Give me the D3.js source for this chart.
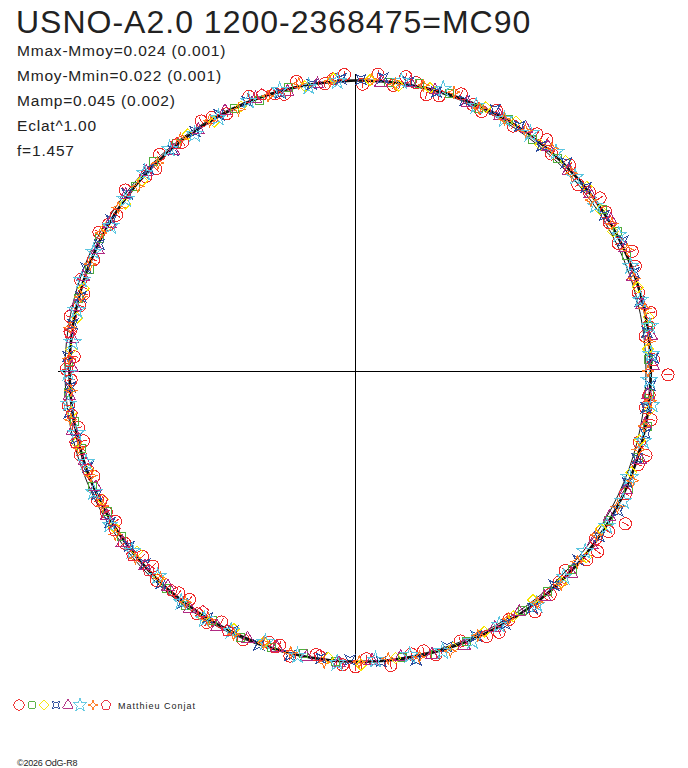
<!DOCTYPE html>
<html>
<head>
<meta charset="utf-8">
<script src="https://cdn.jsdelivr.net/npm/d3@7"></script>
<style>
  body { margin: 0; background: #fff; }
  text { font-family: "Liberation Sans", Arial, sans-serif; fill: #222; }
</style>
</head>
<body>
<script>
// titles
var title = "USNO-A2.0 1200-2368475=MC90";
var infoLines = ["Mmax-Mmoy=0.024 (0.001)", "Mmoy-Mmin=0.022 (0.001)", "Mamp=0.045 (0.002)", "Eclat^1.00", "f=1.457"];
var author = "Matthieu Conjat";
var copyright = "\u00a92026 OdG-R8";

// fitted curve, mag offset from mean, read every 0.05 in phase
var fitPhase = [0, 0.05, 0.10, 0.15, 0.20, 0.25, 0.30, 0.35, 0.40, 0.45, 0.50, 0.55, 0.60, 0.65, 0.70, 0.75, 0.80, 0.85, 0.90, 0.95];
var fitMag = [0.000, -0.008, -0.014, -0.019, -0.023, -0.024, -0.023, -0.020, -0.015, -0.009, -0.002, 0.006, 0.012, 0.017, 0.021, 0.022, 0.020, 0.015, 0.009, 0.004];

// observations per series: phase and mag offset
var circPhase = [0.004, 0.012, 0.021, 0.033, 0.047, 0.058, 0.066, 0.079, 0.091, 0.104, 0.117, 0.128, 0.139, 0.152, 0.166, 0.178, 0.193, 0.207, 0.219, 0.231, 0.244, 0.252, 0.263, 0.276, 0.289, 0.301, 0.318, 0.332, 0.347, 0.359, 0.371, 0.386, 0.398, 0.412, 0.427, 0.441, 0.456, 0.469, 0.481, 0.494, 0.507, 0.522, 0.536, 0.549, 0.563, 0.578, 0.592, 0.607, 0.621, 0.636, 0.648, 0.661, 0.676, 0.689, 0.703, 0.718, 0.731, 0.745, 0.758, 0.772, 0.787, 0.801, 0.814, 0.829, 0.842, 0.856, 0.869, 0.883, 0.897, 0.912, 0.926, 0.941, 0.955, 0.968, 0.983, 0.994,
    0.027, 0.072, 0.110, 0.146, 0.185, 0.226, 0.270, 0.295, 0.340, 0.378, 0.420, 0.462, 0.500, 0.543, 0.585, 0.628, 0.668, 0.710, 0.751, 0.794, 0.835, 0.876, 0.918, 0.960, 0.988, 0.040, 0.160, 0.352, 0.600, 0.780];
var circMag = [0.018, -0.035, 0.012, -0.020, 0.015, -0.030, -0.002, -0.028, -0.004, -0.040, -0.010, -0.032, 0.002, -0.045, -0.018, -0.008, -0.041, -0.015, -0.052, -0.006, -0.038, -0.110, -0.020, -0.045, -0.010, -0.036, -0.030, -0.098, -0.012, -0.040, 0.005, -0.030, -0.050, -0.008, -0.028, 0.004, -0.022, 0.010, -0.030, 0.012, -0.018, 0.020, -0.010, 0.028, -0.004, 0.030, 0.002, 0.034, 0.008, 0.040, 0.012, 0.036, 0.010, 0.042, 0.014, 0.038, 0.006, 0.030, 0.044, 0.012, 0.036, 0.004, 0.030, -0.006, 0.026, -0.012, 0.022, -0.008, 0.018, -0.016, 0.014, -0.020, 0.010, -0.024, 0.008, -0.030,
    -0.040, 0.010, -0.048, -0.020, -0.055, -0.030, -0.010, -0.060, -0.045, -0.015, -0.038, 0.012, -0.026, 0.030, -0.008, 0.046, 0.020, 0.048, 0.006, 0.040, 0.016, 0.032, -0.004, 0.024, -0.012, 0.026, -0.030, -0.058, 0.040, 0.000];

var sqPhase = [0.018, 0.052, 0.087, 0.121, 0.158, 0.186, 0.226, 0.262, 0.297, 0.335, 0.368, 0.403, 0.438, 0.474, 0.511, 0.547, 0.583, 0.614, 0.652, 0.684, 0.722, 0.755, 0.791, 0.826, 0.861, 0.894, 0.931, 0.963,
    0.035, 0.104, 0.172, 0.244, 0.315, 0.386, 0.456, 0.529, 0.600, 0.668, 0.738, 0.808, 0.878, 0.946, 0.070, 0.280, 0.565, 0.706];
var sqMag = [0.002, -0.012, -0.020, -0.015, -0.024, -0.018, -0.028, -0.022, -0.026, -0.016, -0.020, -0.010, -0.012, 0.002, -0.004, 0.010, 0.014, 0.012, 0.020, 0.016, 0.024, 0.018, 0.022, 0.012, 0.016, 0.006, 0.008, -0.004,
    -0.020, -0.006, -0.034, -0.016, -0.034, -0.008, -0.022, 0.018, 0.004, 0.026, 0.012, 0.030, 0.000, 0.016, 0.004, -0.036, 0.000, 0.028];

var diaPhase = [0.008, 0.041, 0.073, 0.109, 0.143, 0.171, 0.204, 0.238, 0.271, 0.306, 0.341, 0.377, 0.409, 0.446, 0.478, 0.515, 0.552, 0.588, 0.621, 0.659, 0.693, 0.727, 0.762, 0.797, 0.833, 0.866, 0.902, 0.935, 0.972,
    0.024, 0.091, 0.157, 0.221, 0.288, 0.358, 0.427, 0.497, 0.570, 0.640, 0.710, 0.780, 0.850, 0.918, 0.988, 0.125, 0.395, 0.675];
var diaMag = [-0.004, -0.010, -0.018, -0.008, -0.026, -0.012, -0.020, -0.014, -0.030, -0.016, -0.008, -0.024, -0.006, -0.014, 0.004, 0.012, 0.020, 0.006, 0.028, 0.014, 0.030, 0.018, 0.026, 0.032, 0.014, 0.024, 0.002, 0.012, 0.006,
    0.010, -0.030, -0.012, -0.036, -0.010, -0.030, -0.002, -0.018, 0.026, 0.036, 0.010, 0.036, 0.030, 0.020, -0.014, -0.032, 0.004, 0.034];

var astPhase = [0.003, 0.029, 0.061, 0.094, 0.126, 0.161, 0.196, 0.229, 0.258, 0.284, 0.312, 0.345, 0.381, 0.415, 0.449, 0.486, 0.519, 0.554, 0.586, 0.618, 0.645, 0.679, 0.712, 0.741, 0.776, 0.808, 0.838, 0.873, 0.906, 0.939, 0.976,
    0.015, 0.045, 0.078, 0.110, 0.143, 0.178, 0.212, 0.243, 0.270, 0.298, 0.328, 0.362, 0.398, 0.432, 0.467, 0.503, 0.536, 0.570, 0.602, 0.632, 0.662, 0.695, 0.727, 0.758, 0.792, 0.823, 0.855, 0.890, 0.922, 0.958, 0.992];
var astMag = [-0.006, -0.016, -0.004, -0.022, -0.030, -0.014, -0.026, -0.018, -0.024, -0.032, -0.016, -0.022, -0.010, -0.018, -0.002, -0.006, 0.006, 0.000, 0.014, 0.010, 0.022, 0.018, 0.014, 0.024, 0.020, 0.010, 0.018, 0.008, 0.012, 0.000, 0.004,
    -0.020, 0.000, -0.030, -0.008, -0.020, -0.036, -0.010, -0.038, -0.012, -0.022, -0.036, -0.008, -0.028, -0.004, -0.024, 0.008, -0.008, 0.016, 0.004, 0.024, 0.010, 0.030, 0.006, 0.012, 0.030, 0.024, 0.008, 0.022, 0.000, 0.014, -0.010];

var triPhase = [0.014, 0.044, 0.082, 0.113, 0.147, 0.182, 0.214, 0.247, 0.279, 0.316, 0.351, 0.389, 0.421, 0.458, 0.491, 0.527, 0.561, 0.597, 0.631, 0.666, 0.699, 0.736, 0.768, 0.803, 0.836, 0.871, 0.908, 0.944, 0.979,
    0.030, 0.063, 0.098, 0.130, 0.165, 0.198, 0.231, 0.263, 0.298, 0.333, 0.370, 0.405, 0.440, 0.475, 0.509, 0.544, 0.579, 0.614, 0.649, 0.683, 0.717, 0.752, 0.786, 0.820, 0.854, 0.890, 0.926, 0.962];
var triMag = [0.004, -0.006, -0.012, -0.024, -0.016, -0.028, -0.018, -0.034, -0.020, -0.026, -0.014, -0.020, -0.008, -0.016, 0.002, 0.000, 0.010, 0.004, 0.016, 0.012, 0.024, 0.016, 0.028, 0.012, 0.020, 0.008, 0.014, 0.002, 0.006,
    -0.012, 0.002, -0.028, -0.008, -0.030, -0.010, -0.036, -0.014, -0.038, -0.012, -0.030, -0.004, -0.024, 0.006, -0.010, 0.016, 0.000, 0.024, 0.006, 0.030, 0.008, 0.034, 0.014, 0.028, 0.006, 0.024, -0.002, 0.016];

var starPhase = [0.025, 0.068, 0.101, 0.135, 0.174, 0.211, 0.241, 0.268, 0.309, 0.338, 0.374, 0.418, 0.452, 0.489, 0.532, 0.571, 0.603, 0.642, 0.681, 0.715, 0.749, 0.784, 0.818, 0.852, 0.889, 0.921, 0.958, 0.990,
    0.048, 0.085, 0.118, 0.154, 0.192, 0.226, 0.255, 0.288, 0.322, 0.356, 0.395, 0.435, 0.470, 0.510, 0.551, 0.587, 0.622, 0.661, 0.698, 0.732, 0.766, 0.801, 0.835, 0.870, 0.905, 0.940, 0.974];
var starMag = [-0.014, -0.004, -0.022, -0.012, -0.030, -0.016, -0.028, -0.040, -0.018, -0.024, -0.012, -0.006, -0.016, 0.004, 0.000, 0.012, 0.006, 0.018, 0.010, 0.022, 0.016, 0.026, 0.014, 0.018, 0.004, 0.012, -0.002, 0.002,
    -0.024, -0.010, -0.032, -0.004, -0.020, -0.036, -0.018, -0.028, -0.036, -0.008, -0.026, -0.020, 0.004, -0.010, 0.022, -0.002, 0.026, 0.004, 0.030, 0.008, 0.032, 0.010, 0.030, 0.006, 0.022, 0.000, 0.012];

var spkPhase = [0.009, 0.037, 0.070, 0.098, 0.132, 0.167, 0.199, 0.234, 0.266, 0.293, 0.326, 0.363, 0.394, 0.431, 0.465, 0.498, 0.536, 0.569, 0.601, 0.638, 0.672, 0.707, 0.739, 0.774, 0.811, 0.846, 0.879, 0.916, 0.951, 0.986,
    0.022, 0.054, 0.085, 0.115, 0.150, 0.183, 0.216, 0.250, 0.280, 0.310, 0.345, 0.378, 0.412, 0.448, 0.482, 0.517, 0.552, 0.585, 0.620, 0.655, 0.690, 0.723, 0.757, 0.792, 0.829, 0.862, 0.897, 0.933, 0.969];
var spkMag = [-0.008, -0.016, 0.000, -0.020, -0.012, -0.026, -0.014, -0.020, -0.030, -0.018, -0.022, -0.010, -0.018, -0.004, -0.012, -0.002, 0.008, 0.002, 0.018, 0.008, 0.020, 0.014, 0.026, 0.010, 0.022, 0.012, 0.018, 0.004, 0.010, -0.002,
    0.006, -0.026, -0.010, -0.032, -0.002, -0.036, -0.028, -0.010, -0.016, -0.038, -0.004, -0.030, -0.004, -0.026, 0.006, -0.012, 0.018, 0.008, 0.028, 0.000, 0.030, 0.008, 0.018, 0.030, 0.004, 0.026, 0.000, 0.020, -0.012];

var pentPhase = [0.545, 0.573, 0.611, 0.628, 0.657, 0.694, 0.726, 0.771, 0.894, 0.948, 0.520, 0.590, 0.640, 0.675, 0.710, 0.755];
var pentMag = [0.012, 0.006, 0.022, 0.016, 0.008, 0.026, 0.018, 0.010, 0.006, -0.006, 0.020, 0.028, 0.004, 0.030, 0.006, 0.024];

// custom marker shapes
function polyPath(pts) { return "M" + pts.map(function(p) { return p.join(","); }).join("L") + "Z"; }
var astroid = polyPath([[-5,-5],[0,-2.5],[5,-5],[2.5,0],[5,5],[0,2.5],[-5,5],[-2.5,0]]);
var spike = polyPath([[0,-6],[1.6,-1.6],[6,0],[1.6,1.6],[0,6],[-1.6,1.6],[-6,0],[-1.6,-1.6]]);
var diamond = polyPath([[0,-5.5],[5.5,0],[0,5.5],[-5.5,0]]);
var pentagon = polyPath(d3.range(5).map(function(i) {
    var a = i * 2 * Math.PI / 5;
    return [6 * Math.sin(a), -6 * Math.cos(a)];
}));

var series = [
    {phase: circPhase, mag: circMag, color: "#ee2a2a", shape: d3.symbol(d3.symbolCircle, 118)(), bar: true},
    {phase: sqPhase, mag: sqMag, color: "#4fae3c", shape: d3.symbol(d3.symbolSquare, 64)()},
    {phase: diaPhase, mag: diaMag, color: "#f7e500", shape: diamond},
    {phase: astPhase, mag: astMag, color: "#2d4d9e", shape: astroid},
    {phase: triPhase, mag: triMag, color: "#b02a82", shape: d3.symbol(d3.symbolTriangle, 68)()},
    {phase: starPhase, mag: starMag, color: "#5cc6e0", shape: d3.symbol(d3.symbolStar, 78)()},
    {phase: spkPhase, mag: spkMag, color: "#ff7a22", shape: spike},
    {phase: pentPhase, mag: pentMag, color: "#e8283a", shape: pentagon}
];

var width = 688, height = 768;
var cx = 355.5, cy = 371;

var svg = d3.select("body").append("svg")
    .attr("width", width)
    .attr("height", height);

// scales: phase -> angle (clockwise from top), mag offset -> radius (bright outward)
var angle = d3.scaleLinear().domain([0, 1]).range([0, 2 * Math.PI]);
var radius = d3.scaleLinear().domain([0, -0.1]).range([290.5, 310.5]);

var plot = svg.append("g").attr("transform", "translate(" + cx + "," + cy + ")");

// axes
plot.append("line").attr("x1", -298).attr("x2", 291).attr("y1", 0).attr("y2", 0)
    .attr("stroke", "#000").attr("stroke-width", 1).attr("shape-rendering", "crispEdges");
plot.append("line").attr("x1", 0).attr("x2", 0).attr("y1", -297).attr("y2", 292)
    .attr("stroke", "#000").attr("stroke-width", 1).attr("shape-rendering", "crispEdges");

// mean circle
plot.append("circle").attr("r", radius(0))
    .attr("fill", "none").attr("stroke", "#000").attr("stroke-width", 0.9);

// fitted curve
var fitLine = d3.lineRadial()
    .angle(function(d, i) { return angle(fitPhase[i]); })
    .radius(function(d) { return radius(d); })
    .curve(d3.curveCardinalClosed);

plot.append("path")
    .attr("d", fitLine(fitMag))
    .attr("fill", "none")
    .attr("stroke", "#111")
    .attr("stroke-width", 2.6);

// points
function xy(p, m) {
    var a = angle(p), r = radius(m);
    return [r * Math.sin(a), -r * Math.cos(a)];
}

series.forEach(function(s) {
    var g = plot.append("g").attr("shape-rendering", "crispEdges");
    var pts = s.phase.map(function(p, i) { return {p: p, m: s.mag[i]}; });
    var mk = g.selectAll("g").data(pts).enter().append("g")
        .attr("transform", function(d) { return "translate(" + xy(d.p, d.m).join(",") + ")"; });
    mk.append("path")
        .attr("d", s.shape)
        .attr("fill", "none")
        .attr("stroke", s.color)
        .attr("stroke-width", 1);
    if (s.bar) {
        // radial error tick inside the marker
        mk.append("line")
            .attr("x1", function(d) { return -4 * Math.sin(angle(d.p)); })
            .attr("y1", function(d) { return 4 * Math.cos(angle(d.p)); })
            .attr("x2", function(d) { return 4 * Math.sin(angle(d.p)); })
            .attr("y2", function(d) { return -4 * Math.cos(angle(d.p)); })
            .attr("stroke", s.color)
            .attr("stroke-width", 1);
    }
});

// text block
svg.append("text").attr("x", 16).attr("y", 33)
    .attr("font-size", 32).attr("letter-spacing", 1).text(title);

svg.selectAll(".info").data(infoLines).enter().append("text")
    .attr("class", "info")
    .attr("x", 17)
    .attr("y", function(d, i) { return 56 + i * 25; })
    .attr("font-size", 15.5)
    .attr("letter-spacing", 0.8)
    .text(function(d) { return d; });

// legend
var legendX = [19, 32, 44, 56, 68, 80, 93, 106];
var lg = svg.append("g").attr("transform", "translate(0,705)").attr("shape-rendering", "crispEdges");
lg.selectAll("path").data(series).enter().append("path")
    .attr("transform", function(d, i) { return "translate(" + legendX[i] + ",0) scale(0.85)"; })
    .attr("d", function(d) { return d.shape; })
    .attr("fill", "none")
    .attr("stroke", function(d) { return d.color; })
    .attr("stroke-width", 1.1);
lg.append("text").attr("x", 118).attr("y", 4)
    .attr("font-size", 9).attr("letter-spacing", 1).text(author);

svg.append("text").attr("x", 17).attr("y", 766)
    .attr("font-size", 9).attr("letter-spacing", -0.2).text(copyright);
</script>
</body>
</html>
